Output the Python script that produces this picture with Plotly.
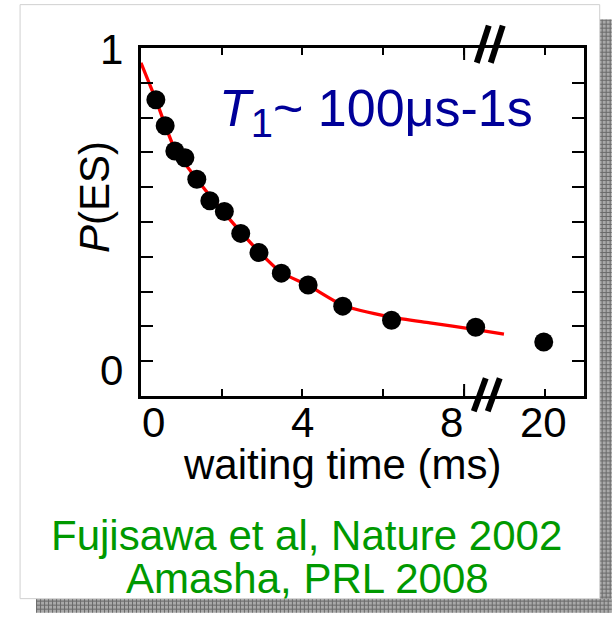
import plotly.graph_objects as go

# ---- data ----
wait_ms = [0.05, 0.30, 0.56, 0.83, 1.15, 1.50, 1.89, 2.33, 2.82, 3.42, 4.14, 5.07, 6.38, 8.64]
p_es = [0.844, 0.763, 0.684, 0.663, 0.596, 0.529, 0.495, 0.427, 0.367, 0.303, 0.266, 0.200, 0.156, 0.134]
wait_ms_far = [20]
p_es_far = [0.088]
fit_ms = [-0.35, 0.05, 0.56, 1.15, 1.89, 2.82, 3.42, 4.14, 5.07, 6.38, 7.41, 8.64, 9.40]
fit_p = [0.959, 0.844, 0.69, 0.596, 0.49, 0.37, 0.305, 0.265, 0.203, 0.166, 0.148, 0.127, 0.113]
x_tick_labels = ["0", "4", "8"]
x_tick_vals = [0, 4, 8]
x_far_tick_labels = ["20"]
x_far_tick_vals = [20]
y_tick_labels = ["0", "1"]
y_tick_vals = [0, 1]

W, H = 612, 621
L, R, T, B = 141, 584.3, 48.3, 395.7
pw, ph = R - L, B - T
FONT = "Arial, Liberation Sans, sans-serif"


def px(x):
    return (x - L) / pw


def py(y):
    return (B - y) / ph


fig = go.Figure()
fig.add_trace(go.Scatter(x=fit_ms, y=fit_p, mode="lines",
                         line=dict(color="#ff0000", width=3.3, shape="spline", smoothing=0.6),
                         hoverinfo="skip", showlegend=False))
fig.add_trace(go.Scatter(x=wait_ms, y=p_es, mode="markers",
                         marker=dict(color="black", size=19), showlegend=False))
fig.add_trace(go.Scatter(x=wait_ms_far, y=p_es_far, mode="markers", xaxis="x2",
                         marker=dict(color="black", size=19), showlegend=False))

shapes = []
# drop shadow (textured)
SH = "#a9a9a9"
GRID = dict(color="#6a6a6a", width=1)
shapes.append(dict(type="rect", xref="paper", yref="paper", layer="below",
                   x0=px(36), x1=px(612), y0=py(612), y1=py(598),
                   fillcolor=SH, line=dict(width=0)))
shapes.append(dict(type="rect", xref="paper", yref="paper", layer="below",
                   x0=px(600), x1=px(612), y0=py(612), y1=py(20),
                   fillcolor=SH, line=dict(width=0)))
xg = 36.5
while xg < 612:
    shapes.append(dict(type="line", xref="paper", yref="paper", layer="below",
                       x0=px(xg), x1=px(xg), y0=py(612), y1=py(598), line=GRID))
    xg += 4
yg = 20.5
while yg < 598:
    shapes.append(dict(type="line", xref="paper", yref="paper", layer="below",
                       x0=px(600), x1=px(612), y0=py(yg), y1=py(yg), line=GRID))
    yg += 4
for yg in [600.5, 604.5, 608.5]:
    shapes.append(dict(type="line", xref="paper", yref="paper", layer="below",
                       x0=px(36), x1=px(612), y0=py(yg), y1=py(yg), line=GRID))
for xg in [602.5, 606.5, 610.5]:
    shapes.append(dict(type="line", xref="paper", yref="paper", layer="below",
                       x0=px(xg), x1=px(xg), y0=py(598), y1=py(20), line=GRID))
# white panel
shapes.append(dict(type="rect", xref="paper", yref="paper", layer="below",
                   x0=px(20), x1=px(600), y0=py(598), y1=py(5),
                   fillcolor="white", line=dict(color="#d0d0d0", width=1)))
# axis break marks
for (xb, yb, xt, yt) in [(477, 63, 489, 26), (491, 63, 503, 26),
                         (474, 411, 486, 378), (488, 411, 500, 378)]:
    shapes.append(dict(type="line", xref="paper", yref="paper",
                       x0=px(xb), y0=py(yb), x1=px(xt), y1=py(yt),
                       line=dict(color="black", width=6)))
# longer tick next to the break
shapes.append(dict(type="line", xref="x", yref="paper", x0=8.33, x1=8.33,
                   y0=0, y1=12 / ph, line=dict(color="black", width=2)))
shapes.append(dict(type="line", xref="x", yref="paper", x0=8.33, x1=8.33,
                   y0=1, y1=1 - 12 / ph, line=dict(color="black", width=2)))

ann = []
for v, t in zip(x_tick_vals, x_tick_labels):
    ann.append(dict(x=v, y=py(422), xref="x", yref="paper", text=t, showarrow=False,
                    xanchor="center", yanchor="middle", height=40,
                    font=dict(size=42, color="black", family=FONT)))
for v, t in zip(x_far_tick_vals, x_far_tick_labels):
    ann.append(dict(x=v, y=py(422), xref="x2", yref="paper", text=t, showarrow=False,
                    xanchor="center", yanchor="middle", height=40,
                    font=dict(size=42, color="black", family=FONT)))
for v, t in zip(y_tick_vals, y_tick_labels):
    ann.append(dict(x=px(111.5), y=v, xref="paper", yref="y", text=t, showarrow=False,
                    xanchor="center", yanchor="middle", font=dict(size=42, color="black", family=FONT)))
ann.append(dict(x=px(342.5), y=py(464), xref="paper", yref="paper", text="waiting time (ms)",
                showarrow=False, xanchor="center", yanchor="middle",
                font=dict(size=42, color="black", family=FONT)))
ann.append(dict(x=px(95), y=py(197), xref="paper", yref="paper", text="<i>P</i>(ES)",
                showarrow=False, textangle=-90, xanchor="center", yanchor="middle",
                font=dict(size=42, color="black", family=FONT)))
ann.append(dict(x=px(217), y=py(112), xref="paper", yref="paper",
                text="<i>T</i><sub><span style=\"font-size:40px\">1</span></sub>~ 100\u03bcs-1s",
                showarrow=False,
                xanchor="left", yanchor="middle", font=dict(size=52, color="#000099", family=FONT)))
ann.append(dict(x=px(307), y=py(535), xref="paper", yref="paper",
                text="Fujisawa et al, Nature 2002", showarrow=False,
                xanchor="center", yanchor="middle", font=dict(size=42, color="#009900", family=FONT)))
ann.append(dict(x=px(308), y=py(578), xref="paper", yref="paper",
                text="Amasha, PRL 2008", showarrow=False,
                xanchor="center", yanchor="middle", font=dict(size=42, color="#009900", family=FONT)))

xr = [-0.349, 11.55]
s = pw / (xr[1] - xr[0])
x2r = [20 - (544 - L) / s, 20 + (R - 544) / s]

fig.update_layout(
    width=W, height=H,
    margin=dict(l=L, r=W - R, t=T, b=H - B, pad=0),
    paper_bgcolor="white", plot_bgcolor="rgba(0,0,0,0)",
    showlegend=False,
    xaxis=dict(range=xr, showgrid=False, zeroline=False, showline=True, linecolor="black",
               linewidth=2.5, mirror="ticks", ticks="inside", ticklen=7, tickwidth=2,
               tickcolor="black", tick0=xr[0], dtick=80.8 / s, showticklabels=False),
    xaxis2=dict(range=x2r, overlaying="x", visible=False),
    yaxis=dict(range=[-0.0803, 1.0053], showgrid=False, zeroline=False, showline=True,
               linecolor="black", linewidth=2.5, mirror="ticks", ticks="inside", ticklen=12,
               tickwidth=2, tickcolor="black", tick0=0.0282, dtick=0.10856,
               showticklabels=False),
    shapes=shapes, annotations=ann,
)
fig.write_html("out.html", config={"displayModeBar": False},
               post_script="document.body.style.margin='0';document.body.style.overflow='hidden';")
